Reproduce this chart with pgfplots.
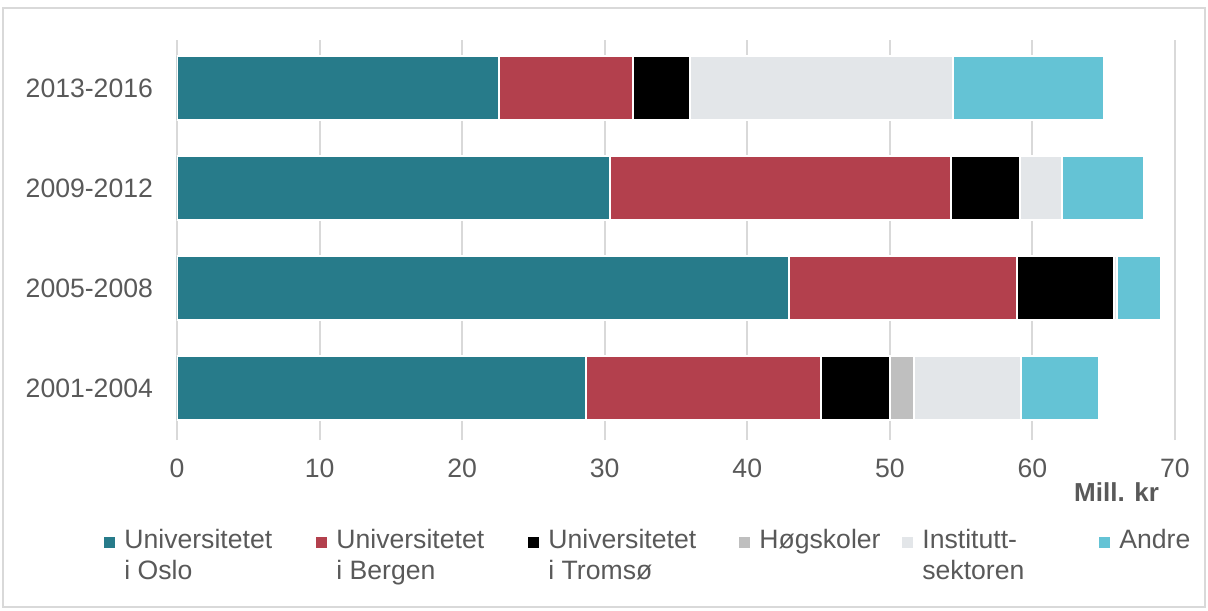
\documentclass[border=0pt]{standalone}
\usepackage{pgfplots}
\pgfplotsset{compat=1.18}
\usepackage{fontspec}
\setmainfont{Liberation Sans}
\definecolor{txt}{HTML}{595959}
\definecolor{cOslo}{HTML}{277B8A}
\definecolor{cBergen}{HTML}{B3404D}
\definecolor{cTromso}{HTML}{000000}
\definecolor{cHogsk}{HTML}{BFBFBF}
\definecolor{cInst}{HTML}{E3E6E9}
\definecolor{cAndre}{HTML}{64C3D5}
\definecolor{gridc}{HTML}{D9D9D9}
% legend entry: fixed slot width, first line on the baseline
\newcommand{\legbox}[2]{\makebox[#1][l]{\begin{tabular}[t]{@{}l@{}}#2\end{tabular}}}

\begin{document}
\begin{tikzpicture}[font=\fontsize{13.3}{15.2}\selectfont, text=txt]
\begin{axis}[
  scale only axis,
  width=499pt, height=200pt,
  xbar stacked,
  bar width=32pt,
  xmin=0, xmax=70,
  ymin=-0.52, ymax=3.48,
  xtick={0,10,...,70},
  ytick={0,1,2,3},
  yticklabels={2001-2004,2005-2008,2009-2012,2013-2016},
  xmajorgrids,
  grid style={gridc, line width=1pt},
  axis line style={draw=none},
  major tick length=0pt,
  tick label style={text=txt},
  /pgf/number format/assume math mode=true,
  xticklabel style={yshift=-6pt},
  yticklabel style={xshift=-8.5pt},
  xlabel={Mill. kr},
  xlabel style={at={(rel axis cs:1,0)}, anchor=east, yshift=-26pt, xshift=-4.5pt, font=\fontsize{13}{15}\selectfont\bfseries, text=txt},
  legend columns=6,
  legend style={at={(rel axis cs:0,0)}, anchor=north west, xshift=-39.5pt, yshift=-40.5pt,
    draw=none, fill=none, column sep=3.5pt,
    nodes={anchor=base west, text=txt, inner sep=1pt},
    /tikz/every even column/.style={column sep=0pt}},
  legend image code/.code={\fill[#1, draw=none] (0pt,0.5pt) rectangle (5.5pt,6pt);},
]
\addplot[fill=cOslo, draw=white, line width=1pt] coordinates {(28.7,0) (42.9,1) (30.4,2) (22.6,3)};
\addplot[fill=cBergen, draw=white, line width=1pt] coordinates {(16.5,0) (16.0,1) (23.9,2) (9.4,3)};
\addplot[fill=cTromso, draw=white, line width=1pt] coordinates {(4.8,0) (6.8,1) (4.8,2) (4.0,3)};
\addplot[fill=cHogsk, draw=white, line width=1pt] coordinates {(1.7,0) (0,1) (0,2) (0,3)};
\addplot[fill=cInst, draw=white, line width=1pt] coordinates {(7.5,0) (0.25,1) (3.0,2) (18.4,3)};
\addplot[fill=cAndre, draw=white, line width=1pt] coordinates {(5.5,0) (3.1,1) (5.75,2) (10.6,3)};
\legend{\legbox{95pt}{Universitetet\\i Oslo}, \legbox{95pt}{Universitetet\\i Bergen}, \legbox{94.5pt}{Universitetet\\i Tromsø}, \legbox{70.5pt}{Høgskoler}, \legbox{87.5pt}{Institutt-\\sektoren}, Andre}
\end{axis}
\draw[gridc, line width=0.8pt] (-87pt,-83.5pt) rectangle (514pt,216pt);
\pgfresetboundingbox
\path[use as bounding box] (-88.5pt,-85pt) rectangle (515.5pt,220pt);
\end{tikzpicture}
\end{document}
